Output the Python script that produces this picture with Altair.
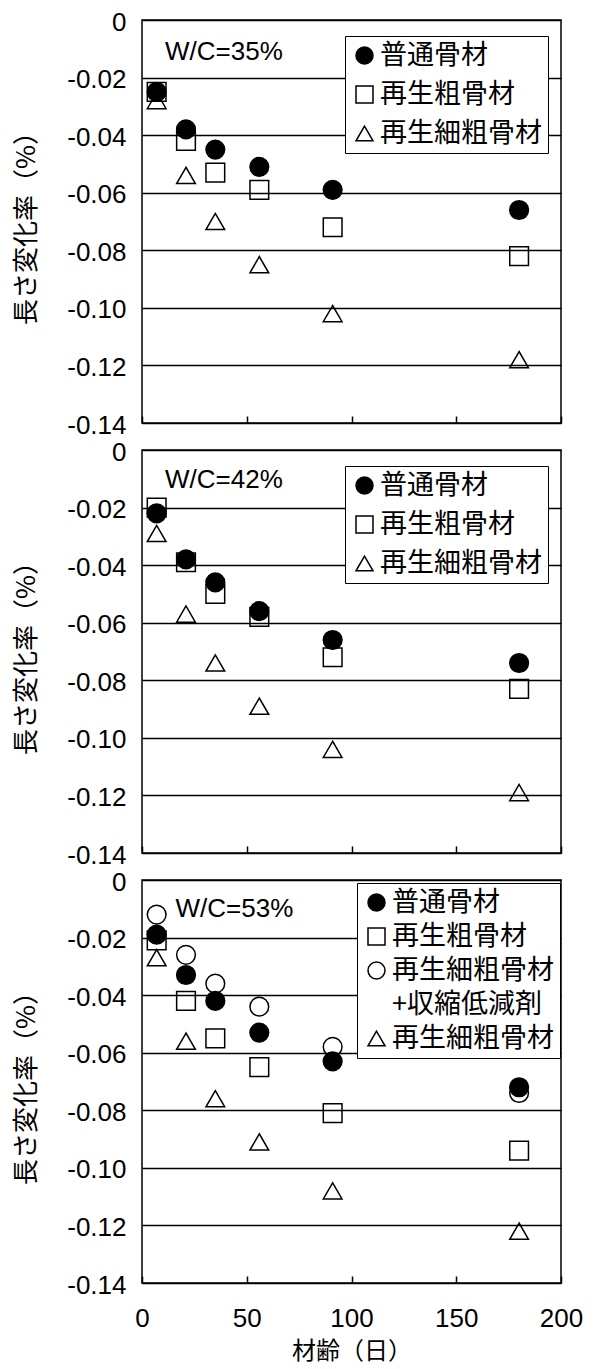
import altair as alt
import pandas as pd

# ---------------- data ----------------
ages = [7, 21, 35, 56, 91, 180]

S_NORMAL = "普通骨材"
S_RCA = "再生粗骨材"
S_RFA_SRA = "再生細粗骨材+収縮低減剤"
S_SPACER = "+収縮低減剤"
S_RFA = "再生細粗骨材"

wc35_normal = [-0.025, -0.038, -0.045, -0.051, -0.059, -0.066]
wc35_rca = [-0.025, -0.042, -0.053, -0.059, -0.072, -0.082]
wc35_rfa = [-0.028, -0.054, -0.070, -0.085, -0.102, -0.118]

wc42_normal = [-0.022, -0.038, -0.046, -0.056, -0.066, -0.074]
wc42_rca = [-0.020, -0.039, -0.050, -0.058, -0.072, -0.083]
wc42_rfa = [-0.029, -0.057, -0.074, -0.089, -0.104, -0.119]

wc53_normal = [-0.019, -0.033, -0.042, -0.053, -0.063, -0.072]
wc53_rca = [-0.021, -0.042, -0.055, -0.065, -0.081, -0.094]
wc53_rfa_sra = [-0.012, -0.026, -0.036, -0.044, -0.058, -0.074]
wc53_rfa = [-0.027, -0.056, -0.076, -0.091, -0.108, -0.122]

panel_labels = ["W/C=35%", "W/C=42%", "W/C=53%"]
label_x = [11, 11, 16]
label_y = [-0.011, -0.0103, -0.010]

y_ticks = [0, -0.02, -0.04, -0.06, -0.08, -0.10, -0.12, -0.14]
x_ticks = [0, 50, 100, 150, 200]

JP = "Noto Sans CJK JP"
LAT = "Liberation Sans"

W, H = 419, 403


def make_df(series):
    rows = []
    for name, vals in series:
        for a, v in zip(ages, vals):
            rows.append({"age": a, "value": v, "series": name})
    return pd.DataFrame(rows)


def axes(bottom):
    if bottom:
        xaxis = alt.Axis(values=x_ticks, labels=True, labelFont=LAT, labelFontSize=26,
                         labelColor="black", labelPadding=22, labelFlush=False,
                         ticks=True, tickSize=7, tickWidth=1.5, tickColor="black",
                         offset=-7, domain=False, grid=False,
                         title="材齢（日）", titleFont=JP, titleFontSize=24,
                         titleFontWeight="normal", titleColor="black", titlePadding=8)
    else:
        xaxis = alt.Axis(values=x_ticks, labels=False, ticks=True, tickSize=7,
                         tickWidth=1.5, tickColor="black", offset=-7,
                         domain=False, grid=False, title=None)
    yaxis = alt.Axis(values=y_ticks, grid=True, gridColor="black", gridWidth=1.3,
                     gridOpacity=1, ticks=False, domain=False,
                     labelFont=LAT, labelFontSize=26, labelColor="black",
                     labelPadding=16, labelOffset=2, labelFlush=False,
                     labelExpr="datum.value == 0 ? '0' : '-' + format(abs(datum.value), '.2f')",
                     title="長さ変化率（%）", titleFont=JP, titleFontSize=26,
                     titleFontWeight="normal", titleColor="black", titlePadding=27)
    x = alt.X("age:Q", scale=alt.Scale(domain=[0, 200], nice=False, zero=False), axis=xaxis)
    y = alt.Y("value:Q", scale=alt.Scale(domain=[-0.14, 0], nice=False, zero=False), axis=yaxis)
    return x, y


def legend(lx, ly, rp):
    return alt.Legend(title=None, orient="none", legendX=lx, legendY=ly, padding=6, rowPadding=rp,
                      labelFont=JP, labelFontSize=27, labelColor="black", labelOffset=2,
                      labelLimit=400, symbolSize=289, symbolStrokeWidth=1.5,
                      symbolStrokeColor="black", strokeColor="black", fillColor="white",
                      labelExpr="datum.label == '%s' ? '%s' : datum.label" % (S_RFA_SRA, S_RFA))


def panel(series, domain, shapes, fills, idx, leg, bottom):
    x, y = axes(bottom)
    pts = alt.Chart(make_df(series)).mark_point(
        filled=True, stroke="black", strokeWidth=1.5, size=350, opacity=1).encode(
        x=x, y=y,
        shape=alt.Shape("series:N", scale=alt.Scale(domain=domain, range=shapes), legend=leg),
        color=alt.Color("series:N", scale=alt.Scale(domain=domain, range=fills), legend=leg),
    )
    txt = alt.Chart(pd.DataFrame({"x": [label_x[idx]], "y": [label_y[idx]],
                                  "t": [panel_labels[idx]]})).mark_text(
        align="left", baseline="middle", font=LAT, fontSize=26, color="black").encode(
        x="x:Q", y="y:Q", text="t:N")
    return alt.layer(pts, txt).properties(width=W, height=H)


dom3 = [S_NORMAL, S_RCA, S_RFA]
shp3 = ["circle", "square", "triangle-up"]
fil3 = ["black", "transparent", "transparent"]

dom5 = [S_NORMAL, S_RCA, S_RFA_SRA, S_SPACER, S_RFA]
shp5 = ["circle", "square", "circle", "M0,0", "triangle-up"]
fil5 = ["black", "transparent", "transparent", "transparent", "transparent"]

p1 = panel([(S_RCA, wc35_rca), (S_RFA, wc35_rfa), (S_NORMAL, wc35_normal)],
           dom3, shp3, fil3, 0, legend(203, 16, 11), False)
p2 = panel([(S_RCA, wc42_rca), (S_RFA, wc42_rfa), (S_NORMAL, wc42_normal)],
           dom3, shp3, fil3, 1, legend(203, 16, 11), False)
p3 = panel([(S_RCA, wc53_rca), (S_RFA_SRA, wc53_rfa_sra), (S_RFA, wc53_rfa), (S_NORMAL, wc53_normal)],
           dom5, shp5, fil5, 2, legend(215, 3, 6), True)

chart = alt.vconcat(p1, p2, p3, spacing=27, bounds="flush").resolve_scale(
    shape="independent", color="independent"
).resolve_legend(shape="independent", color="independent").properties(
    padding={"left": 4, "top": 0, "right": 0, "bottom": 0},
    background="white",
).configure_view(stroke="black", strokeWidth=1.5)

chart.save("out.html", embed_options={"renderer": "svg", "actions": False})
